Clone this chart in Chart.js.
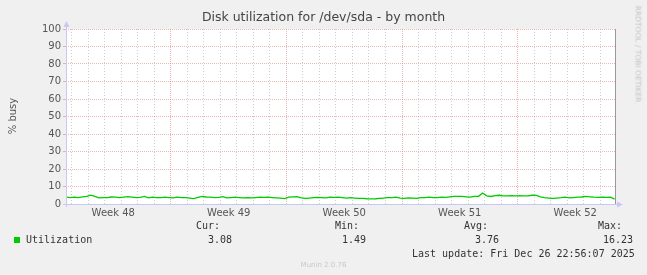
<!DOCTYPE html>
<html>
<head>
<meta charset="utf-8">
<script src="https://cdn.jsdelivr.net/npm/chart.js@4/dist/chart.umd.min.js"></script>
<style>
  html, body { margin: 0; padding: 0; background: #f0f0f0; }
  #wrap { position: relative; width: 647px; height: 275px; overflow: hidden; background: #f0f0f0; }
  #chart { position: absolute; left: 0; top: 0; }
  .txt { position: absolute; white-space: pre; }
  .title { left: 0; top: 9px; width: 647px; text-align: center; font: 12.5px "DejaVu Sans", sans-serif; color: #444; }
  .ylab { left: 12px; top: 116px; transform: translate(-50%, -50%) rotate(-90deg); font: 10px "DejaVu Sans", sans-serif; color: #555; }
  .rrd { left: 638px; top: 54px; transform: translate(-50%, -50%) rotate(90deg); font: 7.5px "DejaVu Sans", sans-serif; color: #c4c4c4; }
  .mono { font: 10px "DejaVu Sans Mono", monospace; color: #333; line-height: 12px; }
  .munin { left: 0; width: 647px; top: 261px; text-align: center; font: 7px "DejaVu Sans", sans-serif; color: #c8c8c8; }
  .swatch { position: absolute; left: 14px; top: 237px; width: 6px; height: 6px; background: #00cc00; }
</style>
</head>
<body>
<div id="wrap">
  <canvas id="chart" width="647" height="275"></canvas>
  <div class="txt title">Disk utilization for /dev/sda - by month</div>
  <div class="txt ylab">% busy</div>
  <div class="txt rrd">RRDTOOL / TOBI OETIKER</div>
  <div class="swatch"></div>
  <div id="legend"></div>
  <div class="txt munin">Munin 2.0.76</div>
</div>
<script>
// samples every 6 hours across the month view
const sampleStepHours = 6;
const utilization = [
  3.9, 3.6, 3.9, 3.7, 4.1, 4.3, 5.1, 4.4, 3.5, 3.6,
  3.7, 4.0, 3.9, 3.6, 3.9, 4.2, 3.9, 3.6, 3.8, 4.3,
  3.5, 3.9, 3.7, 3.6, 3.9, 3.7, 3.5, 3.9, 3.7, 3.6,
  3.4, 3.1, 3.8, 4.3, 4.0, 3.9, 3.6, 3.8, 4.2, 3.5,
  3.7, 3.9, 3.7, 3.5, 3.6, 3.5, 3.7, 3.9, 3.8, 3.9,
  3.7, 3.5, 3.3, 3.1, 3.9, 4.1, 4.2, 3.5, 3.2, 3.4,
  3.6, 3.8, 3.7, 3.5, 3.9, 3.8, 3.9, 3.7, 3.4, 3.6,
  3.4, 3.2, 3.2, 3.0, 2.9, 3.0, 3.2, 3.4, 3.6, 3.7,
  3.9, 3.3, 3.2, 3.5, 3.4, 3.2, 3.6, 3.7, 3.9, 3.6,
  3.7, 3.9, 3.8, 4.1, 4.3, 4.4, 4.3, 4.1, 3.9, 4.3,
  4.4, 6.3, 4.7, 4.3, 4.8, 5.0, 4.7, 4.6, 4.7, 4.6,
  4.7, 4.6, 4.7, 5.0, 4.9, 4.1, 3.6, 3.4, 3.2, 3.4,
  3.6, 3.9, 3.5, 3.7, 3.9, 4.0, 4.3, 4.1, 3.9, 3.8,
  3.9, 3.8, 3.9, 2.8
];

const weekLabels = ['Week 48', 'Week 49', 'Week 50', 'Week 51', 'Week 52'];
const rangeHours = 798.5;       // visible time span
const firstDayLine = 8.7;       // first midnight after left edge (hours)
const firstWeekStart = -15.3;   // Monday 00:00 of Week 48 (hours)
const yMax = 100;
const yStep = 5;
const yLabelStep = 10;

const legendRows = [
  { text: 'Utilization', x: 26, y: 234 },
  { text: 'Cur:', x: 196, y: 220 }, { text: '3.08', x: 208, y: 234 },
  { text: 'Min:', x: 335, y: 220 }, { text: '1.49', x: 342, y: 234 },
  { text: 'Avg:', x: 464, y: 220 }, { text: '3.76', x: 475, y: 234 },
  { text: 'Max:', x: 598, y: 220 }, { text: '16.23', x: 603, y: 234 },
  { text: 'Last update: Fri Dec 26 22:56:07 2025', x: 412, y: 248 }
];

const legendBox = document.getElementById('legend');
legendRows.forEach((row) => {
  const el = document.createElement('div');
  el.className = 'txt mono';
  el.style.left = row.x + 'px';
  el.style.top = row.y + 'px';
  el.textContent = row.text;
  legendBox.appendChild(el);
});

const RED = 'rgba(225, 110, 110, 0.5)';
const GREY = 'rgba(200, 200, 200, 0.9)';
const AXIS = '#c8c8f4';

const plotDecor = {
  id: 'plotDecor',
  beforeDraw(chart) {
    const { ctx, chartArea: a } = chart;
    ctx.save();
    ctx.fillStyle = '#ffffff';
    ctx.fillRect(a.left, a.top, a.right - a.left, a.bottom - a.top);
    ctx.restore();
  },
  afterDraw(chart) {
    const { ctx, chartArea: a } = chart;
    const x0 = Math.round(a.left) + 0.5;
    const y0 = Math.round(a.bottom) + 0.5;
    ctx.save();
    // right edge rule
    ctx.strokeStyle = '#999999';
    ctx.lineWidth = 1;
    ctx.beginPath();
    ctx.moveTo(Math.round(a.right) + 0.5, a.top);
    ctx.lineTo(Math.round(a.right) + 0.5, a.bottom);
    ctx.stroke();
    // axes
    ctx.strokeStyle = AXIS;
    ctx.beginPath();
    ctx.moveTo(x0, a.top - 4);
    ctx.lineTo(x0, a.bottom + 3);
    ctx.moveTo(a.left - 3, y0);
    ctx.lineTo(a.right + 4, y0);
    ctx.stroke();
    // arrow heads
    ctx.fillStyle = AXIS;
    ctx.beginPath();
    ctx.moveTo(x0, a.top - 8);
    ctx.lineTo(x0 - 3, a.top - 2);
    ctx.lineTo(x0 + 3, a.top - 2);
    ctx.closePath();
    ctx.fill();
    ctx.beginPath();
    ctx.moveTo(a.right + 8, y0);
    ctx.lineTo(a.right + 2, y0 - 3);
    ctx.lineTo(a.right + 2, y0 + 3);
    ctx.closePath();
    ctx.fill();
    ctx.restore();
  }
};

new Chart(document.getElementById('chart'), {
  type: 'line',
  data: {
    datasets: [{
      label: 'Utilization',
      data: utilization.map((v, i) => ({ x: i * sampleStepHours, y: v })),
      borderColor: '#00cc00',
      borderWidth: 1.3,
      pointRadius: 0,
      tension: 0,
      fill: false,
    }],
  },
  options: {
    responsive: false,
    animation: false,
    events: [],
    layout: { padding: { left: 0, top: 29, right: 32, bottom: 55 } },
    plugins: {
      legend: { display: false },
      title: { display: false },
      tooltip: { enabled: false },
    },
    scales: {
      x: {
        type: 'linear',
        min: 0,
        max: rangeHours,
        bounds: 'data',
        afterFit: (scale) => { scale.height = 16; },
        afterBuildTicks: (scale) => {
          const ticks = [];
          for (let k = 0; firstDayLine + 24 * k <= rangeHours; k++) {
            const value = firstDayLine + 24 * k;
            const isWeek = Math.abs(((value - firstWeekStart) % 168)) < 0.01;
            ticks.push({ value, kind: isWeek ? 'week' : 'day' });
          }
          weekLabels.forEach((label, k) => {
            ticks.push({ value: firstWeekStart + 168 * k + 84, kind: 'label', text: label });
          });
          ticks.sort((p, q) => p.value - q.value);
          scale.ticks = ticks;
        },
        ticks: {
          autoSkip: false,
          maxRotation: 0,
          padding: 3,
          color: '#555555',
          font: { family: 'DejaVu Sans', size: 10 },
          callback: (value, index, ticks) => (ticks[index].kind === 'label' ? ticks[index].text : ''),
        },
        grid: {
          drawTicks: false,
          lineWidth: 1,
          color: (ctx) => {
            if (!ctx.tick) return 'transparent';
            if (ctx.tick.kind === 'week') return RED;
            if (ctx.tick.kind === 'day') return GREY;
            return 'transparent';
          },
        },
        border: {
          display: false,
          dash: (ctx) => (ctx.tick && ctx.tick.kind === 'week' ? [1, 1] : [1, 2]),
        },
      },
      y: {
        min: 0,
        max: yMax,
        afterFit: (scale) => { scale.width = 66; },
        ticks: {
          stepSize: yStep,
          padding: 2,
          color: '#555555',
          font: { family: 'DejaVu Sans', size: 10 },
          callback: (value) => (value % yLabelStep === 0 ? String(value) : ''),
        },
        grid: {
          drawTicks: true,
          tickLength: 3,
          lineWidth: 1,
          color: (ctx) => {
            if (!ctx.tick || ctx.tick.value === 0) return 'transparent';
            return ctx.tick.value % yLabelStep === 0 ? RED : GREY;
          },
        },
        border: {
          display: false,
          dash: (ctx) => (ctx.tick && ctx.tick.value % yLabelStep === 0 ? [1, 1] : [1, 2]),
        },
      },
    },
  },
  plugins: [plotDecor],
});
</script>
</body>
</html>
